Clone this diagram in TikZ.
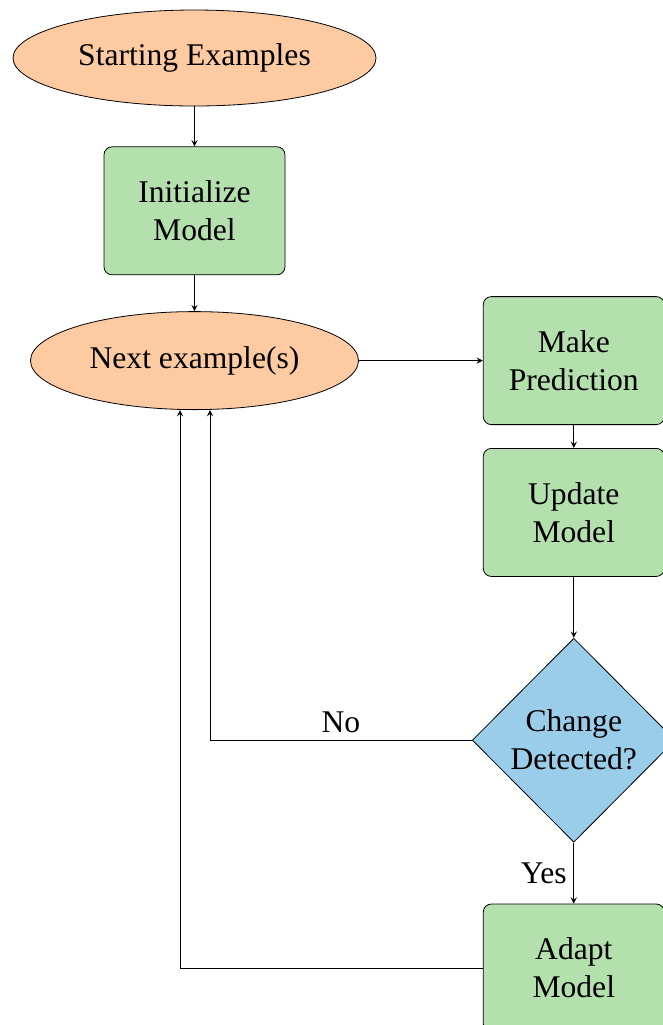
\documentclass[tikz,border=0pt]{standalone}
\usepackage{fontspec}
\setmainfont{Liberation Serif}
\usetikzlibrary{arrows,positioning,shapes.geometric}
\definecolor{peach}{RGB}{253,202,162}
\definecolor{leaf}{RGB}{180,224,174}
\definecolor{sky}{RGB}{154,205,233}
\tikzstyle{terminal}=[
	ellipse,
	draw=black,
	fill=peach,
	inner sep=0pt,
	font=\fontsize{15.8}{19}\selectfont
]
\tikzstyle{process}=[
	rectangle,
	rounded corners=4pt,
	draw=black,
	fill=leaf,
	minimum width=90.5pt,
	minimum height=64pt,
	align=center,
	font=\fontsize{15.8}{19}\selectfont
]
\tikzstyle{decision}=[
	diamond,
	draw=black,
	fill=sky,
	inner sep=0pt,
	minimum width=101.5pt,
	minimum height=102pt,
	align=center,
	font=\fontsize{15.8}{19}\selectfont
]
\tikzstyle{flow}=[
	->,
	>=stealth,
	thin
]

\begin{document}
\begin{tikzpicture}
\useasboundingbox (0,0) rectangle (331.5pt,-512.5pt);
\node [terminal, minimum width=181.5pt, minimum height=48pt] (start) at (97.25pt,-29pt) {Starting Examples};
\node [process] (init) [below=20pt of start] {Initialize\\Model};
\node [terminal, minimum width=164pt, minimum height=49pt] (next) [below=18pt of init] {Next example(s)};
\node [process] (predict) [right=62pt of next] {Make\\Prediction};
\node [process] (update) [below=11.5pt of predict] {Update\\Model};
\node [decision] (detect) [below=30.5pt of update] {Change\\Detected?};
\node [process] (adapt) [below=30.5pt of detect] {Adapt\\Model};

\draw [flow] (start) -- (init);
\draw [flow] (init) -- (next);
\draw [flow] (next) -- (predict);
\draw [flow] (predict) -- (update);
\draw [flow] (update) -- (detect);
\draw [flow] (detect) -- node [left, font=\fontsize{15.8}{19}\selectfont] {Yes} (adapt);
\draw [flow] (detect.west) -| node [pos=0.25, above, font=\fontsize{15.8}{19}\selectfont] {No} ([xshift=7.75pt]next.south);
\draw [flow] (adapt.west) -| ([xshift=-7.25pt]next.south);
\end{tikzpicture}
\end{document}
